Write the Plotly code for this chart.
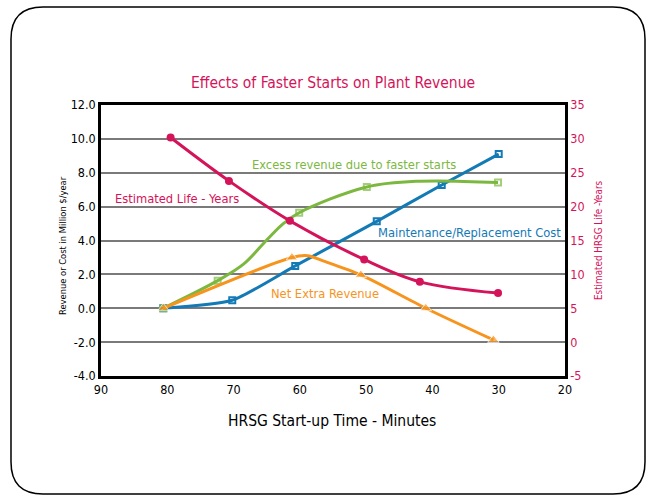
import plotly.graph_objects as go

# ---- data ----
life_x = [79.5, 70.7, 61.5, 50.3, 41.9, 30.1]
life_y = [30.2, 23.8, 17.9, 12.2, 8.9, 7.25]

maint_x = [80.6, 70.2, 60.7, 48.4, 38.6, 30.0]
maint_y = [0.0, 0.47, 2.5, 5.13, 7.28, 9.1]

excess_x = [80.6, 72.4, 68.5, 65.0, 62.5, 60.1, 49.9, 42.0, 30.1]
excess_y = [0.0, 1.63, 2.6, 4.03, 5.0, 5.64, 7.16, 7.5, 7.42]
excess_mark = [1, 1, 0, 0, 0, 1, 1, 0, 1]

net_x = [80.6, 61.2, 58.8, 56.5, 50.8, 41.0, 30.8]
net_y = [0.0, 3.0, 3.1, 2.8, 1.97, 0.0, -1.87]
net_mark = [1, 1, 0, 0, 1, 1, 1]

x_ticks = [90, 80, 70, 60, 50, 40, 30, 20]
y_ticks = [-4, -2, 0, 2, 4, 6, 8, 10, 12]
y2_ticks = [-5, 0, 5, 10, 15, 20, 25, 30, 35]

RED = "#d4145a"
GREEN = "#7cb83f"
BLUE = "#137ab6"
ORANGE = "#f7941d"
FONT = "DejaVu Sans Condensed, Liberation Sans Narrow, sans-serif"

W, H = 650, 497
L, R, T, B = 101, 565, 105, 376


def px(xp):
    return (xp - L) / (R - L)


def py(yp):
    return (B - yp) / (B - T)


fig = go.Figure()

fig.add_trace(go.Scatter(
    x=maint_x, y=maint_y, mode="lines+markers",
    line=dict(color=BLUE, width=3, shape="spline", smoothing=0.6),
    marker=dict(symbol="square-open", size=6, color=BLUE, line=dict(width=2)),
    showlegend=False))

fig.add_trace(go.Scatter(
    x=excess_x, y=excess_y, mode="lines+markers",
    line=dict(color=GREEN, width=3, shape="spline", smoothing=1.0),
    marker=dict(symbol="square-open", size=[6 * m for m in excess_mark],
                color=GREEN, line=dict(width=2)),
    showlegend=False))

fig.add_trace(go.Scatter(
    x=net_x, y=net_y, mode="lines+markers",
    line=dict(color=ORANGE, width=3, shape="spline", smoothing=0.8),
    marker=dict(symbol="triangle-up", size=[10 * m for m in net_mark], color=ORANGE),
    showlegend=False))

fig.add_trace(go.Scatter(
    x=life_x, y=life_y, yaxis="y2", mode="lines+markers",
    line=dict(color=RED, width=3, shape="spline", smoothing=1),
    marker=dict(symbol="circle", size=8, color=RED),
    showlegend=False))

annotations = [
    dict(text="Effects of Faster Starts on Plant Revenue", x=px(333), y=py(83),
         font=dict(size=15.5, color=RED)),
    dict(text="Excess revenue due to faster starts", x=px(353.5), y=py(164),
         font=dict(size=12.8, color=GREEN)),
    dict(text="Estimated Life - Years", x=px(177), y=py(198),
         font=dict(size=12.8, color=RED)),
    dict(text="Maintenance/Replacement Cost", x=px(469), y=py(232),
         font=dict(size=12.8, color=BLUE)),
    dict(text="Net Extra Revenue", x=px(325), y=py(293),
         font=dict(size=12.8, color=ORANGE)),
    dict(text="HRSG Start-up Time - Minutes", x=px(332), y=py(421),
         font=dict(size=15.5, color="black")),
    dict(text="Revenue or Cost in Million $/year", x=px(62), y=py(246),
         textangle=-90, font=dict(size=9.3, color="black")),
    dict(text="Estimated HRSG Life -Years", x=px(598), y=py(240),
         textangle=-90, font=dict(size=9.8, color=RED)),
]
for a in annotations:
    a.update(xref="paper", yref="paper", showarrow=False,
             xanchor="center", yanchor="middle")
    a["font"]["family"] = FONT

# rounded frame around the whole picture
x0, x1, y0, y1, r = 11, 645, 7, 494, 32
def P(x, y):
    return f"{px(x):.5f},{py(y):.5f}"
path = (f"M {P(x0 + r, y0)} L {P(x1 - r, y0)} Q {P(x1, y0)} {P(x1, y0 + r)} "
        f"L {P(x1, y1 - r)} Q {P(x1, y1)} {P(x1 - r, y1)} "
        f"L {P(x0 + r, y1)} Q {P(x0, y1)} {P(x0, y1 - r)} "
        f"L {P(x0, y0 + r)} Q {P(x0, y0)} {P(x0 + r, y0)} Z")

fig.update_layout(
    width=W, height=H,
    margin=dict(l=L, r=W - R, t=T, b=H - B),
    paper_bgcolor="white", plot_bgcolor="white",
    font=dict(family=FONT, color="black"),
    annotations=annotations,
    shapes=[dict(type="path", path=path, xref="paper", yref="paper",
                 line=dict(color="black", width=1.5), layer="below")],
    xaxis=dict(range=[90, 20], tickvals=x_ticks, ticktext=[str(v) for v in x_ticks],
               showgrid=False, zeroline=False, showline=True, mirror=True,
               linecolor="black", linewidth=2.5, ticks="",
               tickfont=dict(size=12.5, color="black", family=FONT)),
    yaxis=dict(range=[-4, 12], tickvals=y_ticks, ticktext=[f"{v:.1f}" for v in y_ticks],
               showgrid=True, gridcolor="#7a7a7a", gridwidth=2, zeroline=False,
               showline=True, linecolor="black", linewidth=2.5, ticks="",
               tickfont=dict(size=12.5, color="black", family=FONT)),
    yaxis2=dict(range=[-5, 35], tickvals=y2_ticks, ticktext=[str(v) for v in y2_ticks],
                overlaying="y", side="right", showgrid=False, zeroline=False,
                showline=True, linecolor="black", linewidth=2.5, ticks="",
                tickfont=dict(size=12.5, color=RED, family=FONT)),
)

fig.write_html("out.html", config={"displayModeBar": False},
               post_script="document.body.style.margin='0px';")
